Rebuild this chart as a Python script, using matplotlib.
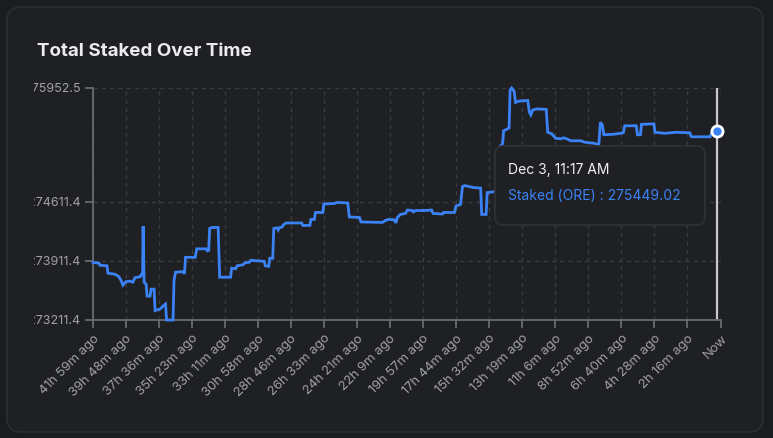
import matplotlib
matplotlib.use("Agg")
from matplotlib import pyplot as plt
from matplotlib.patches import FancyBboxPatch
from matplotlib.transforms import Bbox, TransformedBbox

# data: minutes before "now" and total staked (ORE)
minutes_ago = [2519, 2495, 2491, 2463, 2459, 2431, 2415, 2407, 2399, 2387,
               2371, 2359, 2351, 2330, 2326, 2320, 2318, 2314, 2306, 2302,
               2290, 2286, 2274, 2270, 2250, 2234, 2228, 2224, 2198, 2194,
               2188, 2158, 2152, 2148, 2109, 2103, 2065, 2061, 2055, 2051,
               2041, 2017, 2011, 1967, 1963, 1947, 1941, 1917, 1909, 1892,
               1886, 1864, 1832, 1828, 1814, 1810, 1798, 1794, 1780, 1776,
               1772, 1760, 1756, 1744, 1682, 1677, 1649, 1645, 1631, 1627,
               1597, 1593, 1551, 1539, 1497, 1491, 1450, 1444, 1358, 1346,
               1334, 1310, 1304, 1298, 1286, 1266, 1258, 1238, 1234, 1225,
               1189, 1161, 1155, 1117, 1113, 1069, 1063, 1045, 1037, 1029,
               992, 964, 960, 942, 938, 904, 888, 884, 876, 872,
               860, 850, 846, 840, 830, 824, 808, 775, 769, 763,
               755, 739, 701, 695, 679, 663, 643, 631, 615, 603,
               563, 546, 510, 490, 484, 476, 470, 430, 392, 386,
               340, 335, 323, 319, 269, 265, 225, 181, 125, 119,
               44, 34, 16]
staked = [273890, 273884, 273858, 273852, 273764, 273752, 273723, 273682, 273623, 273664,
          273670, 273658, 273711, 273723, 273746, 273746, 274321, 273658, 273635, 273494,
          273494, 273576, 273576, 273323, 273341, 273388, 273400, 273211.4, 273211.4, 273682,
          273776, 273782, 273758, 273952, 273952, 274052, 274052, 274029, 274035, 274293,
          274305, 274305, 273717, 273717, 273823, 273817, 273852, 273864, 273888, 273894,
          273917, 273911, 273905, 273852, 273846, 273941, 273941, 274293, 274300, 274276,
          274300, 274311, 274335, 274358, 274358, 274329, 274329, 274400, 274400, 274482,
          274482, 274582, 274588, 274600, 274594, 274429, 274423, 274370, 274364, 274388,
          274400, 274394, 274358, 274423, 274459, 274470, 274511, 274505, 274488, 274505,
          274505, 274511, 274470, 274464, 274482, 274482, 274558, 274576, 274788, 274800,
          274776, 274770, 274459, 274459, 274717, 274729, 274764, 275270, 275294, 275447,
          275464, 275482, 275929, 275952.5, 275917, 275782, 275800, 275805, 275670, 275635,
          275694, 275705, 275700, 275429, 275411, 275358, 275352, 275364, 275347, 275329,
          275329, 275311, 275300, 275282, 275547, 275517, 275400, 275406, 275423, 275506,
          275506, 275400, 275400, 275523, 275529, 275429, 275417, 275429, 275423, 275376,
          275376, 275447, 275449.02]

tick_minutes = [2519, 2388, 2256, 2123, 1991, 1858, 1726, 1593, 1461, 1329,
                1197, 1064, 932, 799, 666, 532, 400, 268, 136, 0]
y_ticks = [273211.4, 273911.4, 274611.4, 275952.5]
hover_label = "Dec 3, 11:17 AM"

def ago_label(m):
    if m == 0:
        return "Now"
    return f"{m // 60}h {m % 60}m ago"

plt.rcParams['font.family'] = ['Inter', 'DejaVu Sans']

W, H = 773, 438
fig = plt.figure(figsize=(W / 100, H / 100), dpi=100)
fig.patch.set_facecolor('#1b1c1e')

# pixel-space background layer for the card
bg = fig.add_axes([0, 0, 1, 1], zorder=0)
bg.set_xlim(0, W)
bg.set_ylim(H, 0)
bg.axis('off')
bg.add_patch(FancyBboxPatch((7, 7), 756, 425, boxstyle="round,pad=0,rounding_size=14",
                            facecolor='#1f2023', edgecolor='#2d2e32', linewidth=1.2))
bg.text(37, 52, "Total Staked Over Time", color='#ececee', fontsize=13.5,
        fontweight='bold', va='center', ha='left')

ax = fig.add_axes([93 / W, 1 - 320 / H, 628 / W, 232 / H], zorder=1)
ax.set_facecolor('none')

xs = [-m for m in minutes_ago]
ax.plot(xs, staked, color='#3b82f6', linewidth=2.0, solid_joinstyle='miter', clip_on=False, zorder=3)

ax.set_xlim(-tick_minutes[0], 0)
ax.set_ylim(y_ticks[0], y_ticks[-1])
ax.set_xticks([-m for m in tick_minutes])
ax.set_xticklabels([ago_label(m) for m in tick_minutes], rotation=45, ha='right',
                   rotation_mode='anchor', fontsize=9.4)
ax.set_yticks(y_ticks)
ax.set_yticklabels([f"{v:.1f}" for v in y_ticks], fontsize=9)

ax.grid(True, color='#3a3b40', linestyle=(0, (3, 3)), linewidth=1)
for s in ['top', 'right']:
    ax.spines[s].set_visible(False)
for s in ['left', 'bottom']:
    ax.spines[s].set_color('#6a6b70')
    ax.spines[s].set_linewidth(1.3)
ax.tick_params(colors='#6a6b70', labelcolor='#a1a1aa', length=6, width=1.3, pad=3)

# hover cursor + marker
ax.axvline(xs[-1], color='#c9c9cc', linewidth=1.6, zorder=2)
ax.plot(xs[-1], staked[-1], 'o', markersize=8, markerfacecolor='#3b82f6',
        markeredgecolor='white', markeredgewidth=2, clip_on=False, zorder=5)

fig.canvas.draw()
# y labels are cut by the chart container on the left
clip = TransformedBbox(Bbox.from_extents(33.5 / W, 0, 1, 1), fig.transFigure)
for lab in ax.get_yticklabels():
    lab.set_clip_on(True)
    lab.set_clip_box(clip)

# tooltip
fg = fig.add_axes([0, 0, 1, 1], zorder=4)
fg.set_xlim(0, W)
fg.set_ylim(H, 0)
fg.axis('off')
fg.add_patch(FancyBboxPatch((495, 146), 210, 79, boxstyle="round,pad=0,rounding_size=8",
                            facecolor='#1f2023', edgecolor='#303136', linewidth=1.2))
fg.text(508, 170, hover_label, color='#f0f0f2', fontsize=10, va='center', ha='left')
fg.text(508, 196, f"Staked (ORE) : {staked[-1]:.2f}", color='#3b82f6', fontsize=10,
        va='center', ha='left')

fig.savefig("out.png", dpi=100, facecolor=fig.get_facecolor())
